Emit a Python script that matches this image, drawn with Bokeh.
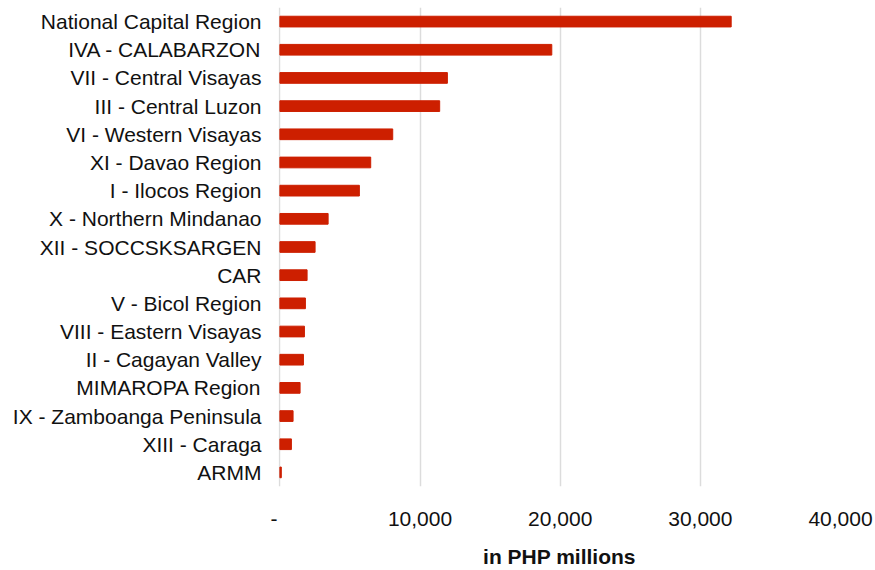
from bokeh.plotting import figure
from bokeh.models import FixedTicker, NumeralTickFormatter, FactorRange, Range1d
from bokeh.embed import file_html
from bokeh.resources import INLINE

regions = [
    "National Capital Region",
    "IVA - CALABARZON",
    "VII - Central Visayas",
    "III - Central Luzon",
    "VI - Western Visayas",
    "XI - Davao Region",
    "I - Ilocos Region",
    "X - Northern Mindanao",
    "XII - SOCCSKSARGEN",
    "CAR",
    "V - Bicol Region",
    "VIII - Eastern Visayas",
    "II - Cagayan Valley",
    "MIMAROPA Region",
    "IX - Zamboanga Peninsula",
    "XIII - Caraga",
    "ARMM",
]
values = [32200, 19400, 11950, 11400, 8050, 6480, 5670, 3440, 2510,
          1940, 1820, 1750, 1680, 1440, 940, 820, 100]
x_ticks = [0, 10000, 20000, 30000, 40000]

FONT = "Liberation Sans"

p = figure(
    width=875, height=570,
    y_range=FactorRange(*list(reversed(regions)), range_padding=0),
    x_range=Range1d(-100, 40000),
    output_backend="svg", toolbar_location=None,
    min_border_left=278, min_border_right=35,
    min_border_top=7, min_border_bottom=82,
)
p.hbar(y=regions, right=values, left=0, height=0.38, color="#CD1F00")

p.outline_line_color = None
p.ygrid.grid_line_color = None
p.xgrid.grid_line_color = "#DCDCDC"
p.xgrid.grid_line_width = 1.5
p.xgrid.ticker = FixedTicker(ticks=x_ticks)

p.xaxis.ticker = FixedTicker(ticks=x_ticks)
p.xaxis.formatter = NumeralTickFormatter(format="0,0")
p.xaxis.major_label_overrides = {0: "-\u00a0\u00a0"}
p.xaxis.axis_line_color = None
p.xaxis.major_tick_line_color = None
p.xaxis.minor_tick_line_color = None
p.xaxis.major_tick_out = 0
p.xaxis.major_tick_in = 0
p.xaxis.minor_tick_out = 0
p.xaxis.major_label_standoff = 20
p.xaxis.major_label_text_font = FONT
p.xaxis.major_label_text_font_size = "21px"
p.xaxis.major_label_text_color = "#111111"
p.xaxis.axis_label = "in PHP millions"
p.xaxis.axis_label_text_font = FONT
p.xaxis.axis_label_text_font_size = "21px"
p.xaxis.axis_label_text_font_style = "bold"
p.xaxis.axis_label_text_color = "#111111"
p.xaxis.axis_label_standoff = 12

p.yaxis.axis_line_color = None
p.yaxis.major_tick_line_color = None
p.yaxis.minor_tick_line_color = None
p.yaxis.major_tick_out = 0
p.yaxis.major_tick_in = 0
p.yaxis.minor_tick_out = 0
p.yaxis.major_label_standoff = 17
p.yaxis.major_label_text_font = FONT
p.yaxis.major_label_text_font_size = "21px"
p.yaxis.major_label_text_color = "#111111"

open("out.html", "w").write(file_html(p, INLINE))
